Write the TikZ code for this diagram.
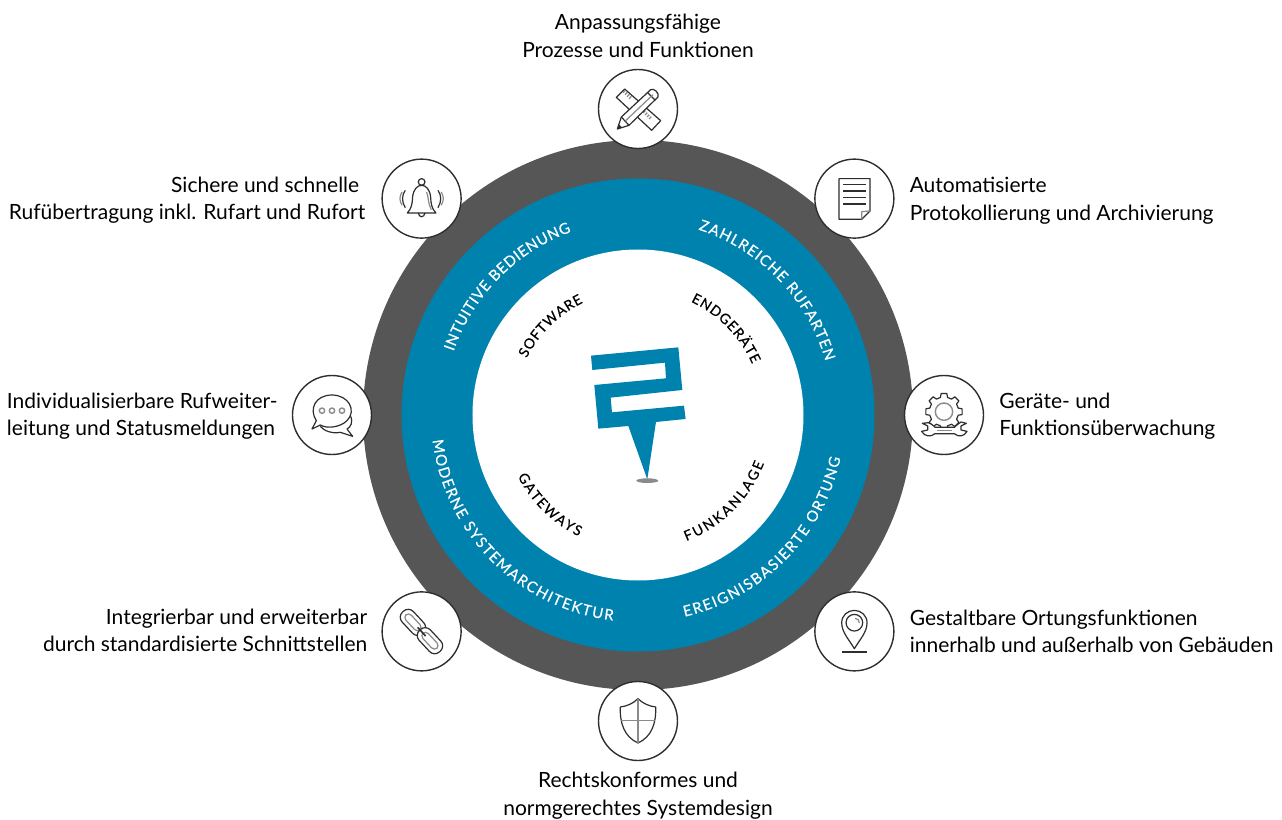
\documentclass[tikz,border=0pt]{standalone}
\usepackage{fontspec}
\setmainfont{Lato}
\newfontfamily\ringfont[FakeBold=0.4]{Lato}
\usetikzlibrary{positioning,decorations.text}
\definecolor{ringgray}{HTML}{565656}
\definecolor{ringblue}{HTML}{0082AE}
\definecolor{iconink}{HTML}{2E2E2E}
\definecolor{iconsoft}{HTML}{8A8A8A}
\tikzset{
 disc/.style={circle,inner sep=0pt,minimum size=#1},
 badge/.style={circle,draw=iconink,line width=1.4pt,fill=white,inner sep=0pt,minimum size=79pt},
 caption/.style={inner sep=0pt,font=\fontsize{21}{27.5}\selectfont},
 zoomed/.style={x=.3333pt,y=-.3333pt,color=iconink,line width=1.2pt,line join=round},
 soft/.style={color=iconsoft},
 arclabel/.style={decorate,decoration={text along path,text align={fit to path},text color=#1}},
}
\begin{document}
\begin{tikzpicture}[x=1pt,y=1pt]
 \useasboundingbox (-638,-404) rectangle (644,415);
 \node[disc=550pt,fill=ringgray] (outer) at (0,0) {};
 \node[disc=473pt,fill=ringblue] (middle) at (0,0) {};
 \node[disc=331pt,fill=white] (hub) at (0,0) {};
 \foreach \ang/\nm in {90/tool,45/page,0/gear,-45/pin,-90/shield,-135/chain,180/chat,135/bell}
  \node[badge] (\nm) at (\ang:306) {};

 \node[caption,align=center,above=11pt of tool] (toolcap) {Anpassungsfähige\\Prozesse und Funktionen};
 \node[caption,align=left,right=15pt of page,yshift=-2pt] (pagecap) {Automatisierte\\Protokollierung und Archivierung};
 \node[caption,align=left,right=15pt of gear,yshift=-1pt] (gearcap) {Geräte- und\\Funktionsüberwachung};
 \node[caption,align=left,right=15pt of pin] (pincap) {Gestaltbare Ortungsfunktionen\\innerhalb und außerhalb von Gebäuden};
 \node[caption,align=center,below=11pt of shield] (shieldcap) {Rechtskonformes und\\normgerechtes Systemdesign};
 \node[caption,align=right,left=14pt of chain,yshift=1pt] (chaincap) {Integrierbar und erweiterbar\\durch standardisierte Schnittstellen};
 \node[caption,align=left,left=14pt of chat,yshift=-1pt] (chatcap) {Individualisierbare Rufweiter-\\leitung und Statusmeldungen};
 \node[caption,align=right,left=16pt of bell,yshift=-1.5pt] (bellcap) {Sichere und schnelle\hspace*{6pt}\\Rufübertragung inkl. Rufart und Rufort};

 \path[arclabel=white,decoration={text={|\ringfont\fontsize{15}{15}\selectfont|INTUITIVE BEDIENUNG}}] (161:195) arc (161:110:195);
 \path[arclabel=white,decoration={text={|\ringfont\fontsize{15}{15}\selectfont|ZAHLREICHE RUFARTEN}}] (72:195) arc (72:16:195);
 \path[arclabel=white,decoration={text={|\ringfont\fontsize{15}{15}\selectfont|MODERNE SYSTEMARCHITEKTUR}}] (187:207) arc (187:263:207);
 \path[arclabel=white,decoration={text={|\ringfont\fontsize{15}{15}\selectfont|EREIGNISBASIERTE ORTUNG}}] (-77:207) arc (-77:-12:207);
 \path[arclabel=black,decoration={text={|\ringfont\fontsize{14}{14}\selectfont|SOFTWARE}}] (153:125) arc (153:116:125);
 \path[arclabel=black,decoration={text={|\ringfont\fontsize{14}{14}\selectfont|ENDGERÄTE}}] (65:125) arc (65:24:125);
 \path[arclabel=black,decoration={text={|\ringfont\fontsize{14}{14}\selectfont|GATEWAYS}}] (207:135) arc (207:244:135);
 \path[arclabel=black,decoration={text={|\ringfont\fontsize{14}{14}\selectfont|FUNKANLAGE}}] (-69:135) arc (-69:-21:135);

 % logo
 \begin{scope}[shift={(hub.center)},shift={(-78,95)},x=.3333pt,y=-.3333pt]
  \fill[ringblue] (93,107) -- (355,82) -- (367,210) -- (152,233) -- (156,277) -- (372,257) -- (377,297)
   -- (288,306) -- (262,478) -- (205,318) -- (115,326) -- (103,195) -- (318,175) -- (315,128) -- (97,150) -- cycle;
  \fill[iconsoft] (262,482) ellipse (33 and 7);
 \end{scope}

 % pencil and ruler
 \begin{scope}[shift={(tool)},zoomed,shift={(-145,-148)}]
  \draw (105,88) -- (213,183) -- (186,212) -- (80,113) -- cycle;
  \foreach \i in {0,1,2,3} {
   \draw[soft] (100+\i*6,99+\i*6) -- (107+\i*6,92+\i*6);
   \draw[soft] (160+\i*6,160+\i*6) -- (167+\i*6,153+\i*6);
  }
  \draw[fill=white] (83,208) -- (95,172) -- (183,90) .. controls (192,84) and (210,100) .. (205,112) -- (118,197) -- cycle;
  \draw (95,172) -- (118,197);
  \draw (173,98) -- (197,122);
  \draw[soft] (107,184) -- (190,105);
  \fill (83,208) -- (87,193) -- (98,204) -- cycle;
 \end{scope}

 % document
 \begin{scope}[shift={(page)},zoomed,shift={(-148,-145)}]
  \draw (102,85) -- (195,85) -- (195,182) -- (170,207) -- (102,207) -- cycle;
  \draw[soft] (170,207) -- (170,184) -- (195,182);
  \foreach \ly in {102,122,141,161}
   \draw (115,\ly) -- (182,\ly);
 \end{scope}

 % gear and spanner
 \begin{scope}[shift={(gear)},zoomed,shift={(-147,-135)}]
  \begin{scope}[shift={(147,125)}]
   \draw (-14:44) \foreach \t in {0,45,...,315} { -- (\t-14:44) -- (\t-9:55) -- (\t+9:55) -- (\t+14:44)} -- cycle;
   \draw[soft,line width=1.4pt] (0,0) circle (26);
  \end{scope}
  \draw[fill=white] (100,158) .. controls (110,160) and (114,167) .. (120,172) -- (178,172)
   .. controls (184,167) and (190,160) .. (198,156) -- (214,160) -- (198,168) -- (198,180) -- (216,184)
   .. controls (208,200) and (190,202) .. (178,191) -- (120,191)
   .. controls (108,202) and (88,200) .. (80,184) -- (98,180) -- (98,168) -- (82,160) -- cycle;
  \draw[soft] (125,181) -- (172,181);
 \end{scope}

 % location pin
 \begin{scope}[shift={(pin)},zoomed,shift={(-148,-153)}]
  \draw (148,205) .. controls (130,175) and (110,155) .. (110,127) .. controls (110,105) and (128,90) .. (148,90)
   .. controls (168,90) and (186,105) .. (186,127) .. controls (186,155) and (166,175) .. (148,205) -- cycle;
  \draw (148,127) circle (25);
  \draw[soft] (150,114) .. controls (158,114) and (163,120) .. (163,128);
  \draw (112,215) -- (185,215);
 \end{scope}

 % shield
 \begin{scope}[shift={(shield)},zoomed,shift={(-145,-152)}]
  \draw (145,85) .. controls (130,100) and (110,108) .. (92,110) .. controls (90,160) and (105,200) .. (145,218)
   .. controls (185,200) and (200,160) .. (198,110) .. controls (180,108) and (160,100) .. (145,85) -- cycle;
  \draw[soft] (145,85) -- (145,218);
  \draw[soft] (94,150) -- (196,150);
 \end{scope}

 % chain links
 \begin{scope}[shift={(chain)},zoomed,shift={(-148,-152)}]
  \foreach \cx/\cy in {122/125,173/180} {
   \begin{scope}[shift={(\cx,\cy)},rotate=-47]
    \draw[fill=white,rounded corners=7pt] (-44,-23) rectangle (44,23);
    \draw[soft,rounded corners=4pt] (-31,-11) rectangle (31,11);
   \end{scope}
  }
  \draw[line width=1.6pt] (136,140) -- (160,166);
 \end{scope}

 % speech bubbles
 \begin{scope}[shift={(chat)},zoomed,shift={(-150,-148)}]
  \draw (205,150) .. controls (215,170) and (205,185) .. (195,190) -- (212,212) -- (175,200) .. controls (150,205) and (125,195) .. (115,182);
  \draw[fill=white] (103,165) .. controls (80,130) and (100,88) .. (150,88) .. controls (200,88) and (225,135) .. (195,165)
   .. controls (175,185) and (135,190) .. (115,178) -- (90,190) -- cycle;
  \foreach \dx in {120,150,180}
   \draw[soft,line width=1.4pt] (\dx,135) circle (8);
 \end{scope}

 % bell
 \begin{scope}[shift={(bell)},zoomed,shift={(-155,-145)}]
  \draw (155,95) circle (10);
  \draw[fill=white] (112,188) .. controls (125,175) and (127,160) .. (128,140) .. controls (130,118) and (142,105) .. (155,105)
   .. controls (168,105) and (180,118) .. (182,140) .. controls (183,160) and (185,175) .. (198,188) -- cycle;
  \draw (145,188) .. controls (147,203) and (163,203) .. (165,188);
  \draw[soft] (170,125) .. controls (176,140) and (174,160) .. (184,178);
  \draw (106,120) .. controls (95,135) and (95,155) .. (106,172);
  \draw (204,120) .. controls (215,135) and (215,155) .. (204,172);
  \draw[soft] (96,125) .. controls (88,140) and (88,150) .. (96,165);
  \draw[soft] (214,125) .. controls (222,140) and (222,150) .. (214,165);
 \end{scope}
\end{tikzpicture}
\end{document}
